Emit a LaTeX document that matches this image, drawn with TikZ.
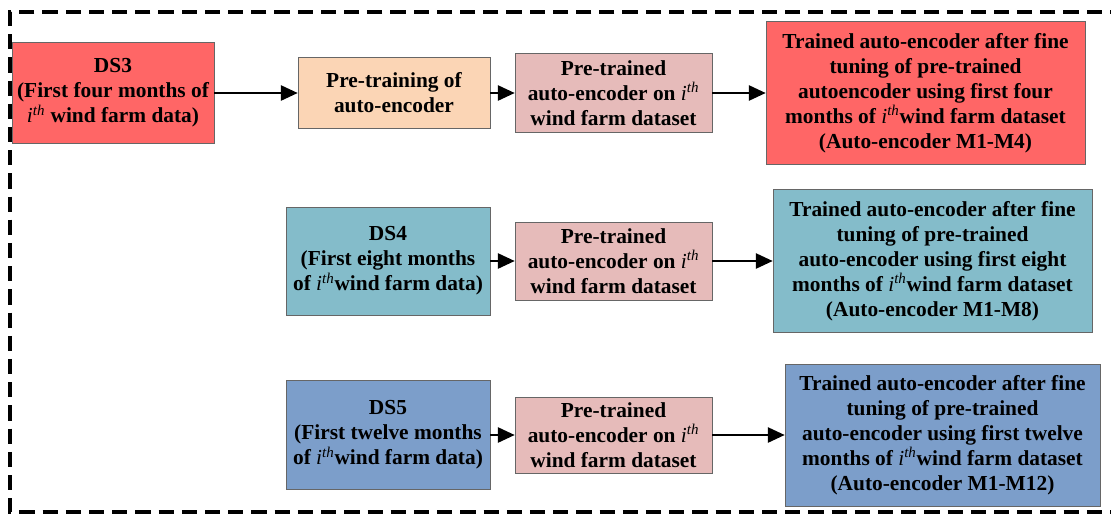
\documentclass[tikz,border=0pt]{standalone}
\usepackage{fontspec}
\setmainfont{Liberation Serif}
\usetikzlibrary{arrows.meta}
\definecolor{dsred}{RGB}{255,102,102}
\definecolor{peach}{RGB}{251,213,181}
\definecolor{rosy}{RGB}{230,187,186}
\definecolor{teal}{RGB}{132,188,202}
\definecolor{steel}{RGB}{124,158,202}
\newcommand{\ith}{{\mdseries\itshape i}\textsuperscript{\mdseries\itshape th}}

\begin{document}
\begin{tikzpicture}[x=0.025cm, y=-0.025cm,
  box/.style={draw=black!60, thin, align=center, inner sep=0pt,
    font=\fontsize{15.2}{17.8}\selectfont\bfseries},
  arr/.style={-{Triangle[length=0.42cm,width=0.38cm]}, line width=1.3pt}]
\useasboundingbox (0,0) rectangle (1111,515);
\draw[line width=2.2pt, dash pattern=on 0.38cm off 0.2cm] (1125,12) -- (10,12) -- (10,512) -- (1125,512);
% first row
\node[box, fill=dsred, minimum width=5.05cm, minimum height=2.525cm] (ds3) at (113,93) {DS3\\(First four months of\\\ith\ wind farm data)};
\node[box, fill=peach, minimum width=4.8cm, minimum height=1.775cm] (pretrain) at (394,93) {Pre-training of\\auto-encoder};
\node[box, fill=rosy, minimum width=4.925cm, minimum height=1.975cm] (pretrained1) at (613.5,93) {Pre-trained\\ auto-encoder on \ith\\wind farm dataset};
\node[box, fill=dsred, minimum width=7.975cm, minimum height=3.575cm] (trained1) at (925.5,93) {Trained auto-encoder after fine\\tuning of pre-trained\\autoencoder using first four\\months of \ith wind farm dataset\\(Auto-encoder M1-M4)};
\draw[arr] (ds3) -- (pretrain);
\draw[arr] (pretrain) -- (pretrained1);
\draw[arr] (pretrained1) -- (trained1);
% second row
\node[box, fill=teal, minimum width=5.1cm, minimum height=2.7cm] (ds4) at (388,261) {DS4\\(First eight months\\of \ith wind farm data)};
\node[box, fill=rosy, minimum width=4.925cm, minimum height=1.95cm] (pretrained2) at (613.5,261) {Pre-trained\\ auto-encoder on \ith\\wind farm dataset};
\node[box, fill=teal, minimum width=7.975cm, minimum height=3.575cm] (trained2) at (932.5,261) {Trained auto-encoder after fine\\tuning of pre-trained\\auto-encoder using first eight\\months of \ith wind farm dataset\\(Auto-encoder M1-M8)};
\draw[arr] (ds4) -- (pretrained2);
\draw[arr] (pretrained2) -- (trained2);
% third row
\node[box, fill=steel, minimum width=5.1cm, minimum height=2.725cm] (ds5) at (388,435) {DS5\\(First twelve months\\of \ith wind farm data)};
\node[box, fill=rosy, minimum width=4.925cm, minimum height=1.9cm] (pretrained3) at (613.5,435) {Pre-trained\\ auto-encoder on \ith\\wind farm dataset};
\node[box, fill=steel, minimum width=7.875cm, minimum height=3.55cm] (trained3) at (942.5,435) {Trained auto-encoder after fine\\tuning of pre-trained\\auto-encoder using first twelve\\months of \ith wind farm dataset\\(Auto-encoder M1-M12)};
\draw[arr] (ds5) -- (pretrained3);
\draw[arr] (pretrained3) -- (trained3);
\end{tikzpicture}
\end{document}
